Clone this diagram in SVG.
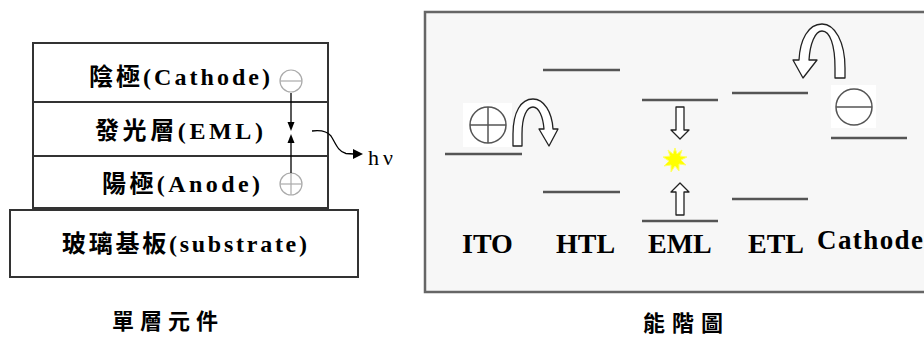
<svg xmlns="http://www.w3.org/2000/svg" width="924" height="338" viewBox="0 0 924 338">
<style>
.box{fill:#fff;stroke:#333;stroke-width:2}
.lbl{font-family:"Liberation Serif","Noto Sans CJK TC",serif;font-weight:bold;fill:#000}
.lvl{stroke:#555;stroke-width:2.5;fill:none}
.hollow{fill:#fff;stroke:#222;stroke-width:1.3;stroke-linejoin:round}
.lc{fill:none;stroke:#aaa;stroke-width:1.2}
.rc{fill:none;stroke:#555;stroke-width:1.5}
.wbg{fill:#fff}
</style>
<rect width="924" height="338" fill="#fff"/>

<g id="device-stack">
  <rect class="box" x="33" y="43" width="295" height="165"/>
  <line x1="33" y1="102" x2="328" y2="102" stroke="#333" stroke-width="2"/>
  <line x1="33" y1="156" x2="328" y2="156" stroke="#333" stroke-width="2"/>
  <rect class="box" x="10" y="210" width="348" height="67"/>
</g>
<g id="cathode-layer">
  <text class="lbl" x="89" y="85" font-size="24" textLength="181" lengthAdjust="spacing">陰極(Cathode)</text>
  <g id="cathode-minus"><circle class="lc" cx="291" cy="81" r="11"/><line x1="280" y1="81" x2="302" y2="81" stroke="#aaa" stroke-width="1.2"/></g>
</g>
<g id="eml-layer">
  <text class="lbl" x="95" y="139" font-size="24" textLength="168" lengthAdjust="spacing">發光層(EML)</text>
</g>
<g id="anode-layer">
  <text class="lbl" x="102" y="192" font-size="24" textLength="158" lengthAdjust="spacing">陽極(Anode)</text>
  <g id="anode-plus"><circle class="lc" cx="291" cy="184" r="11"/><line x1="280" y1="184" x2="302" y2="184" stroke="#aaa" stroke-width="1.2"/><line x1="291" y1="173" x2="291" y2="195" stroke="#aaa" stroke-width="1.2"/></g>
</g>
<g id="substrate">
  <text class="lbl" x="62" y="252" font-size="24" textLength="245" lengthAdjust="spacing">玻璃基板(substrate)</text>
</g>
<g id="hv-label">
  <text x="368" y="165" font-family="Liberation Serif, serif" font-size="22" letter-spacing="4" fill="#000">hν</text>
</g>

<g id="connectors">
  <line x1="291" y1="93" x2="291" y2="124" stroke="#000" stroke-width="1.3"/>
  <polygon points="287.5,122 294.5,122 291,131" fill="#000"/>
  <polygon points="287.5,143 294.5,143 291,134" fill="#000"/>
  <line x1="291" y1="141" x2="291" y2="173" stroke="#000" stroke-width="1.3"/>
  <path d="M312,131 C320,130 327,131 331,136 C335,142 338,152 346,153.5 L354,154" fill="none" stroke="#000" stroke-width="1.3"/>
  <polygon points="353,149 363,154 353,159" fill="#000"/>
</g>

<g id="energy-panel">
  <rect x="425" y="12" width="505" height="280" fill="#f7f7f7" stroke="#666" stroke-width="2.5"/>
</g>
<g id="ito">
  <line class="lvl" x1="445" y1="154" x2="522" y2="154"/>
  <rect class="wbg" x="463" y="103" width="49" height="44"/>
  <circle class="rc" cx="488" cy="125" r="18"/>
  <line x1="470" y1="125" x2="506" y2="125" stroke="#555" stroke-width="1.5"/>
  <line x1="488" y1="107" x2="488" y2="143" stroke="#555" stroke-width="1.5"/>
  <path class="hollow" d="M513,146 L522,146 L522,134 C522,116 527,107 533,107 C539,107 543,117 544,129 L539,129 L549,146 L558,129 L553,129 C552,112 544,99 533,99 C521,99 513,112 513,134 Z"/>
  <text class="lbl" x="462" y="253" font-size="28">ITO</text>
</g>
<g id="htl">
  <line class="lvl" x1="543" y1="70" x2="620" y2="70"/>
  <line class="lvl" x1="543" y1="192" x2="620" y2="192"/>
  <text class="lbl" x="556" y="253" font-size="28">HTL</text>
</g>
<g id="eml">
  <line class="lvl" x1="642" y1="100" x2="718" y2="100"/>
  <line class="lvl" x1="642" y1="221" x2="718" y2="221"/>
  <path class="hollow" d="M676,107 L684,107 L684,130 L689,130 L680,139 L671,130 L676,130 Z"/>
  <path class="hollow" d="M676,215 L684,215 L684,192 L689,192 L680,183 L671,192 L676,192 Z"/>
  <polygon points="675,148 677,154 682,150 680,156 687,157 681,160 686,165 679,164 679,171 675,166 671,172 671,165 664,166 669,161 663,157 670,156 668,150 673,154" fill="#ffff00" stroke="#ffff66" stroke-width="1"/>
  <text class="lbl" x="648" y="253" font-size="28">EML</text>
</g>
<g id="etl">
  <line class="lvl" x1="732" y1="93" x2="808" y2="93"/>
  <line class="lvl" x1="732" y1="199" x2="808" y2="199"/>
  <text class="lbl" x="748" y="253" font-size="28">ETL</text>
</g>
<g id="cathode">
  <line class="lvl" x1="831" y1="138" x2="907" y2="138"/>
  <rect class="wbg" x="831" y="85" width="45" height="43"/>
  <circle class="rc" cx="854" cy="107" r="18"/>
  <line x1="836" y1="107" x2="872" y2="107" stroke="#555" stroke-width="1.5"/>
  <path class="hollow" d="M835,78 L845,78 L845,68 C845,42 835,24 822,24 C808,24 800,40 799,60 L793,60 L803,78 L817,60 L809,60 C810,44 815,31 822,31 C830,31 835,45 835,68 Z"/>
  <text class="lbl" x="817" y="249" font-size="27" textLength="106" lengthAdjust="spacing">Cathode</text>
</g>

<g id="captions">
  <text class="lbl" x="112" y="329" font-size="22" letter-spacing="6" font-family="Noto Sans CJK TC, sans-serif">單層元件</text>
  <text class="lbl" x="643" y="331" font-size="22" letter-spacing="7" font-family="Noto Sans CJK TC, sans-serif">能階圖</text>
</g>
</svg>
